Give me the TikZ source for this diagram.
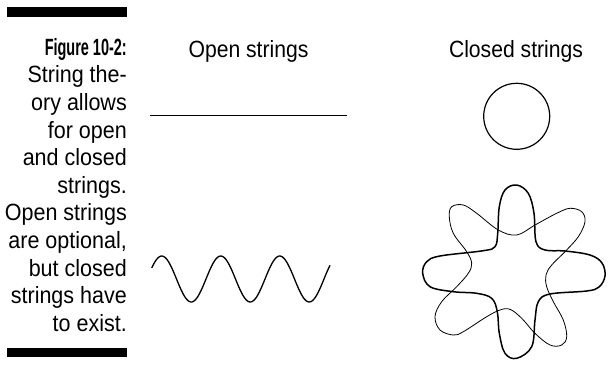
\documentclass[tikz,border=0pt]{standalone}
\usepackage{fontspec}
\setmainfont{Liberation Sans}
\newfontfamily\capfont{Liberation Sans}[FakeStretch=0.915]
\newfontfamily\capbold{Liberation Sans}[FakeStretch=0.616]
\newfontfamily\headfont{Liberation Sans}[FakeStretch=0.9]

\begin{document}
\begin{tikzpicture}[x=1pt,y=-1pt,
    captext/.style={font=\capfont\fontsize{23.5}{27.6}\selectfont,align=right,inner sep=0pt,anchor=north east},
    headtext/.style={font=\headfont\fontsize{23.5}{28}\selectfont,inner sep=0pt,anchor=base},
    bar/.style={fill=black},
    boldstring/.style={line width=1.5pt,line join=round},
    thinstring/.style={line width=0.8pt,line join=round}]
  \useasboundingbox (0,0) rectangle (608,375);

  \fill[bar] (7.3,7.3) rectangle (126.7,16.7);
  \fill[bar] (7.3,348) rectangle (126.7,357);
  \node[captext] (caption) at (127,38) {{\capbold\bfseries Figure 10-2:}\\String the-\\ory allows\\for open\\and closed\\strings.\\Open strings\\are optional,\\but closed\\strings have\\to exist.};

  \node[headtext] (open) at (248.5,57) {Open strings};
  \node[headtext] (closed) at (516,57) {Closed strings};

  \draw[line width=1pt] (150,115.7) -- (347,115.7);
  \draw[line width=1.2pt] (516.7,116.3) circle[radius=33];

  \draw[line width=1.3pt] plot[domain=151.7:330,samples=120,smooth] (\x,{279-23*sin((\x-147)*6.1017)});

  \draw[boldstring] plot[smooth cycle,tension=0.6] coordinates {
    (516.7,185) (528.3,193.3) (534,213.3) (536,241.7) (545,250) (565,251)
    (590,255) (602,263) (605,276) (599,287) (586.7,291) (550,294)
    (538.3,301.7) (535,320) (531.7,346.7) (516.7,358.3) (505,353.3) (499.3,333.3)
    (497.3,311.7) (491.7,298.3) (476.7,293.3) (453.3,291.7) (430,286.7) (422.7,273.3)
    (426.7,261.7) (440,256) (483.3,250.7) (495,246.7) (497.7,233.3) (499.3,206.7) (505,190)};
  \draw[thinstring] plot[smooth cycle,tension=0.6] coordinates {
    (516.7,235) (498.3,230) (476.7,213.3) (463.3,205) (451.7,206.7) (449.3,216.7)
    (453.3,233.3) (466.7,251.7) (471.7,263.3) (468.3,273.3) (456.7,286.7) (441.7,301.7)
    (435,316.7) (440,330) (453.3,335) (463.3,331.7) (486.7,316.7) (500,310)
    (510,309.3) (521.7,318.3) (535,333.3) (550,345) (561.7,345) (566.7,336.7)
    (563.3,320) (553.3,301.7) (546.7,286.7) (546,275) (551.7,265) (565,251.7)
    (578.3,236.7) (585,221.7) (581.7,211.7) (570,208.3) (556.7,213.3) (535,225)};
\end{tikzpicture}
\end{document}
